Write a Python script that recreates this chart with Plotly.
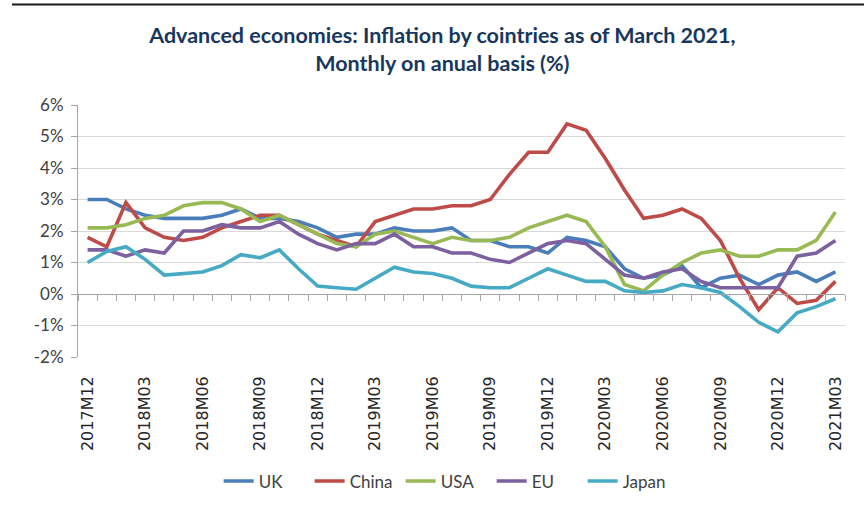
import plotly.graph_objects as go

MONTHS = (
    ["2017M12"]
    + [f"2018M{m:02d}" for m in range(1, 13)]
    + [f"2019M{m:02d}" for m in range(1, 13)]
    + [f"2020M{m:02d}" for m in range(1, 13)]
    + [f"2021M{m:02d}" for m in range(1, 4)]
)

UK = [3.0, 3.0, 2.7, 2.5, 2.4, 2.4, 2.4, 2.5, 2.7, 2.4, 2.4, 2.3, 2.1,
      1.8, 1.9, 1.9, 2.1, 2.0, 2.0, 2.1, 1.7, 1.7, 1.5, 1.5, 1.3,
      1.8, 1.7, 1.5, 0.8, 0.5, 0.6, 0.9, 0.2, 0.5, 0.6, 0.3, 0.6,
      0.7, 0.4, 0.7]
CHINA = [1.8, 1.5, 2.9, 2.1, 1.8, 1.7, 1.8, 2.1, 2.3, 2.5, 2.5, 2.2, 1.9,
         1.7, 1.5, 2.3, 2.5, 2.7, 2.7, 2.8, 2.8, 3.0, 3.8, 4.5, 4.5,
         5.4, 5.2, 4.3, 3.3, 2.4, 2.5, 2.7, 2.4, 1.7, 0.5, -0.5, 0.2,
         -0.3, -0.2, 0.4]
USA = [2.1, 2.1, 2.2, 2.4, 2.5, 2.8, 2.9, 2.9, 2.7, 2.3, 2.5, 2.2, 1.9,
       1.6, 1.5, 1.9, 2.0, 1.8, 1.6, 1.8, 1.7, 1.7, 1.8, 2.1, 2.3,
       2.5, 2.3, 1.5, 0.3, 0.1, 0.6, 1.0, 1.3, 1.4, 1.2, 1.2, 1.4,
       1.4, 1.7, 2.6]
EU = [1.4, 1.4, 1.2, 1.4, 1.3, 2.0, 2.0, 2.2, 2.1, 2.1, 2.3, 1.9, 1.6,
      1.4, 1.6, 1.6, 1.9, 1.5, 1.5, 1.3, 1.3, 1.1, 1.0, 1.3, 1.6,
      1.7, 1.6, 1.1, 0.6, 0.5, 0.7, 0.8, 0.4, 0.2, 0.2, 0.2, 0.2,
      1.2, 1.3, 1.7]
JAPAN = [1.0, 1.35, 1.5, 1.1, 0.6, 0.65, 0.7, 0.9, 1.25, 1.15, 1.4, 0.8, 0.25,
         0.2, 0.15, 0.5, 0.85, 0.7, 0.65, 0.5, 0.25, 0.2, 0.2, 0.5, 0.8,
         0.6, 0.4, 0.4, 0.1, 0.05, 0.1, 0.3, 0.2, 0.05, -0.4, -0.9, -1.2,
         -0.6, -0.4, -0.15]

SERIES = {"UK": UK, "China": CHINA, "USA": USA, "EU": EU, "Japan": JAPAN}
COLOURS = {"UK": "#4a7ebb", "China": "#be4b48", "USA": "#98b954",
           "EU": "#7d60a0", "Japan": "#46aac5"}

Y_TICKS = list(range(-2, 7))
Y_LABELS = [f"{v}%" for v in Y_TICKS]
X_TICKS = MONTHS[::3]

GRID = "#d9d9d9"
AXIS = "#a6a6a6"
TEXT = "#404040"

fig = go.Figure()
for name, values in SERIES.items():
    fig.add_trace(
        go.Scatter(
            x=MONTHS, y=values, name=name, mode="lines",
            line=dict(color=COLOURS[name], width=3.6),
        )
    )

# helper trace so the overlaid zero axis (with month ticks) is drawn
fig.add_trace(go.Scatter(x=[], y=[], xaxis="x2", showlegend=False, hoverinfo="skip"))

n = len(MONTHS)
fig.update_layout(
    width=864, height=510,
    margin=dict(l=78, r=19, t=105, b=152),
    plot_bgcolor="white", paper_bgcolor="white",
    title=dict(
        text="Advanced economies: Inflation by cointries as of March 2021,<br>Monthly on anual basis (%)",
        x=0.512, xanchor="center", xref="container",
        y=0.915, yanchor="top", yref="container",
        font=dict(family="Lato", size=21.5, color="#17375e", weight="bold"),
    ),
    xaxis=dict(
        type="category", categoryorder="array", categoryarray=MONTHS,
        range=[-0.5, n - 0.5], tickmode="array", tickvals=X_TICKS,
        tickangle=-90, ticks="", showgrid=False, showline=False, zeroline=False,
        ticklabelstandoff=15,
        tickfont=dict(family="DejaVu Sans", size=16, color="#262626"),
    ),
    xaxis2=dict(
        overlaying="x", anchor="free", position=2 / 8,
        range=[-0.5, n - 0.5], tickmode="array",
        tickvals=[i - 0.5 for i in range(n + 1)],
        showticklabels=False, ticks="outside", ticklen=6, tickcolor=AXIS,
        showline=True, linecolor=AXIS, linewidth=1,
        showgrid=False, zeroline=False,
    ),
    yaxis=dict(
        range=[-2, 6], tickmode="array", tickvals=Y_TICKS, ticktext=Y_LABELS,
        showgrid=True, gridcolor=GRID, gridwidth=1,
        showline=True, linecolor=AXIS, linewidth=1,
        ticks="outside", ticklen=6, tickcolor=AXIS,
        zeroline=False, ticklabelstandoff=4,
        tickfont=dict(family="Lato", size=17, color=TEXT),
    ),
    legend=dict(
        orientation="h", x=0.48, xanchor="center", y=-0.488, yanchor="middle",
        font=dict(family="Lato", size=17, color=TEXT),
        entrywidth=46, entrywidthmode="pixels",
    ),
    shapes=[
        dict(type="line", xref="paper", yref="paper",
             x0=(12 - 78) / 767, x1=(864 - 78) / 767,
             y0=(358 - 4) / 253, y1=(358 - 4) / 253,
             line=dict(color="#1a1a1a", width=2)),
    ],
    showlegend=True,
)

fig.write_html(
    "out.html",
    config={"displayModeBar": False},
    post_script="document.body.style.margin = '0';",
)
